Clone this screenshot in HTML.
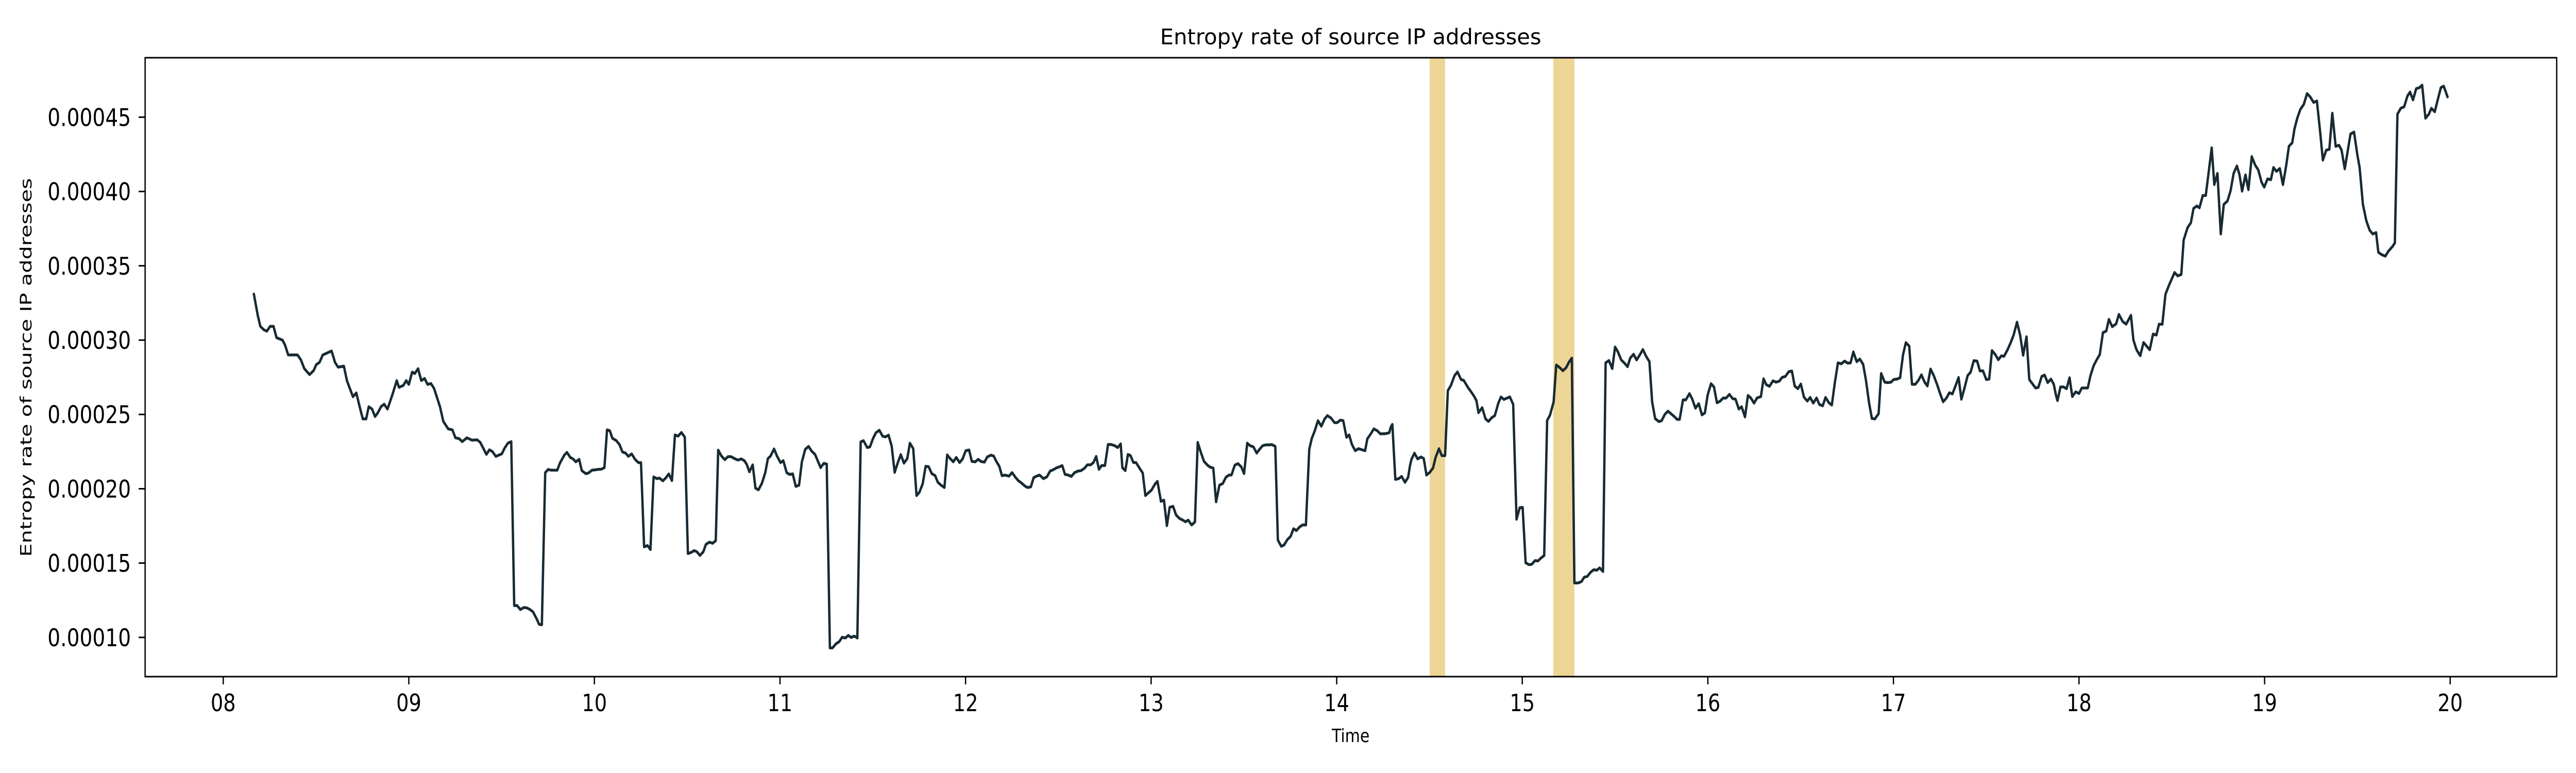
<!DOCTYPE html>
<html><head><meta charset="utf-8"><style>
html,body{margin:0;padding:0;background:#fff;width:100%;height:100%;overflow:hidden;}
svg{display:block;width:100vw;height:100vh;}
text{font-family:"DejaVu Sans","Liberation Sans",sans-serif;fill:#000;}
</style></head><body>
<svg id="chart" viewBox="0 0 6000 1500" preserveAspectRatio="none" xmlns="http://www.w3.org/2000/svg">
<rect x="0" y="0" width="6000" height="1500" fill="#fff"/>
<g id="bands"></g>
<g id="series"></g>
<g id="axes"></g>
<text x="3146" y="86" font-size="42" text-anchor="middle" textLength="888" lengthAdjust="spacingAndGlyphs">Entropy rate of source IP addresses</text>
<text x="3146" y="1440" font-size="36" text-anchor="middle">Time</text>
<text transform="translate(73,713) rotate(-90)" font-size="36" text-anchor="middle" textLength="735" lengthAdjust="spacingAndGlyphs">Entropy rate of source IP addresses</text>
</svg>
<script>
// time in hours, values in units of 1e-5
const times = [8.165,8.186,8.200,8.218,8.235,8.253,8.271,8.287,8.319,8.333,8.350,8.400,8.418,8.437,8.465,8.487,8.501,8.519,8.536,8.584,8.602,8.619,8.650,8.667,8.699,8.717,8.735,8.752,8.770,8.784,8.802,8.818,8.832,8.850,8.867,8.885,8.912,8.935,8.947,8.970,8.986,9.000,9.018,9.032,9.050,9.067,9.085,9.101,9.119,9.136,9.168,9.186,9.212,9.235,9.251,9.271,9.288,9.313,9.340,
9.368,9.385,9.403,9.418,9.434,9.450,9.469,9.501,9.516,9.534,9.552,9.568,9.584,9.601,9.619,9.635,9.651,9.669,9.690,9.702,9.717,9.735,9.751,9.767,9.800,9.814,9.838,9.852,9.870,9.885,9.900,9.918,9.932,9.953,9.967,9.987,10.003,10.020,10.038,10.054,10.068,10.083,10.097,10.118,10.135,10.151,10.168,10.183,10.201,10.219,10.237,10.251,10.268,10.286,10.302,10.319,10.337,10.351,10.369,10.386,10.401,10.418,10.434,10.451,10.469,10.487,10.504,10.522,10.537,10.552,10.569,10.587,10.601,10.620,10.637,10.654,10.667,10.685,10.703,10.720,10.737,10.755,10.774,10.791,10.808,10.821,10.835,10.853,10.868,10.884,10.903,10.921,10.935,10.949,10.968,10.985,11.003,11.018,11.036,11.051,11.069,11.085,11.103,11.118,11.136,11.154,11.171,11.189,
11.205,11.219,11.236,11.252,11.269,11.283,11.302,11.319,11.335,11.352,11.368,11.384,11.400,11.417,11.435,11.450,11.470,11.485,11.502,11.517,11.535,11.553,11.568,11.585,11.602,11.618,11.635,11.651,11.668,11.686,11.700,11.718,11.736,11.751,11.769,11.785,11.801,11.818,11.836,11.851,11.868,11.886,11.901,11.915,11.934,11.950,11.968,11.984,12.001,12.019,12.034,12.052,12.068,12.084,12.102,12.117,12.137,12.152,12.166,12.182,12.196,12.214,12.234,12.251,12.267,12.284,12.302,12.320,12.335,12.352,12.367,12.383,12.399,12.420,12.438,12.456,12.471,12.489,12.505,12.521,12.536,12.554,12.570,12.588,12.606,12.623,12.642,12.656,12.674,12.689,12.704,12.719,12.733,12.751,12.768,12.784,12.804,12.819,12.836,12.845,12.861,12.875,12.889,12.904,12.919,12.937,12.955,12.969,12.984,13.002,13.020,13.034,
13.053,13.069,13.085,13.100,13.118,13.135,13.153,13.171,13.185,13.200,13.218,13.236,13.251,13.268,13.285,13.306,13.321,13.335,13.350,13.368,13.386,13.403,13.419,13.433,13.451,13.468,13.486,13.501,13.518,13.533,13.551,13.569,13.584,13.601,13.618,13.637,13.651,13.669,13.683,13.701,13.716,13.734,13.752,13.767,13.783,13.801,13.817,13.834,13.852,13.866,13.881,13.899,13.917,13.935,13.950,13.970,13.988,14.003,14.020,14.035,14.053,14.067,14.082,14.100,14.118,14.135,14.153,14.165,14.182,14.200,14.218,14.236,14.265,14.283,14.292,14.300,14.316,14.334,14.350,14.368,14.385,14.395,14.403,14.419,14.436,14.454,14.469,14.484,14.501,14.519,14.533,14.551,14.566,14.584,14.599,14.616,14.635,14.651,14.670,14.684,14.708,14.725,14.740,14.753,14.764,14.784,14.802,14.818,14.835,14.852,14.871,14.885,
14.901,14.933,14.951,14.969,14.986,15.002,15.018,15.037,15.051,15.069,15.084,15.101,15.118,15.134,15.149,15.169,15.183,15.201,15.219,15.237,15.252,15.267,15.281,15.301,15.319,15.334,15.350,15.368,15.385,15.402,15.417,15.435,15.449,15.467,15.485,15.500,15.515,15.533,15.551,15.567,15.582,15.600,15.616,15.633,15.650,15.667,15.685,15.700,15.716,15.736,15.751,15.768,15.785,15.801,15.818,15.834,15.848,15.866,15.881,15.901,15.916,15.933,15.951,15.968,15.984,15.999,16.017,16.033,16.049,16.066,16.082,16.098,16.116,16.134,16.149,16.167,16.182,16.200,16.216,16.232,16.249,16.265,
16.286,16.300,16.315,16.332,16.351,16.367,16.385,16.400,16.418,16.436,16.453,16.468,16.485,16.501,16.518,16.536,16.551,16.568,16.586,16.601,16.619,16.634,16.652,16.668,16.684,16.701,16.719,16.737,16.754,16.769,16.784,16.802,16.819,16.837,16.852,16.869,16.884,16.900,16.920,16.934,16.953,16.969,16.987,17.002,17.020,17.036,17.052,17.067,17.085,17.100,17.118,17.135,17.151,17.168,17.183,17.200,17.217,17.235,17.250,17.268,17.286,17.301,17.318,17.333,17.351,17.366,17.384,17.400,17.416,17.433,17.451,17.466,17.483,17.500,17.516,17.531,17.549,17.565,17.581,17.596,17.614,17.632,17.648,17.666,17.683,17.699,17.717,17.732,17.750,17.766,17.781,17.799,17.815,17.831,17.849,17.864,17.876,17.884,17.900,17.917,17.933,17.949,17.964,17.982,18.000,18.015,18.047,18.062,18.079,18.097,18.112,
18.129,18.147,18.161,18.179,18.200,18.215,18.236,18.254,18.280,18.293,18.310,18.330,18.348,18.381,18.399,18.417,18.431,18.449,18.466,18.484,18.515,18.532,18.551,18.564,18.585,18.603,18.617,18.635,18.649,18.667,18.683,18.715,18.729,18.746,18.764,18.780,18.800,18.817,18.833,18.851,18.865,18.879,18.897,18.913,18.931,18.949,18.966,18.984,18.998,19.016,19.034,19.048,19.064,19.082,19.099,19.117,19.131,19.149,19.161,19.176,19.193,19.211,19.229,19.246,19.264,19.282,19.300,19.314,19.332,19.349,19.365,19.383,19.401,19.415,19.432,19.463,19.482,19.500,19.512,19.530,19.548,19.566,19.583,19.601,19.613,19.631,19.651,19.667,19.690,19.702,19.716,19.734,19.752,19.770,19.784,19.800,19.817,19.835,19.849,19.867,19.885,19.899,19.917,19.933,19.950,19.965,19.986];
const values = [33.1,31.66,30.93,30.70,30.6,30.93,30.93,30.17,30.0,29.67,29.0,29.0,28.68,28.08,27.68,27.95,28.35,28.51,29.0,29.27,28.51,28.18,28.25,27.25,26.19,26.45,25.52,24.7,24.7,25.52,25.36,24.86,25.09,25.52,25.69,25.36,26.35,27.28,26.82,26.95,27.28,27.02,27.85,27.75,28.08,27.28,27.42,27.02,27.08,26.75,25.52,24.53,24.03,23.96,23.43,23.37,23.17,23.43,23.27,
23.29,23.12,22.68,22.31,22.62,22.51,22.18,22.35,22.73,23.07,23.17,12.14,12.14,11.87,12.01,11.99,11.89,11.72,11.22,10.88,10.85,21.08,21.30,21.25,21.25,21.72,22.26,22.45,22.11,22.01,21.81,21.98,21.22,21.02,21.05,21.25,21.27,21.30,21.32,21.42,23.96,23.91,23.40,23.24,22.98,22.48,22.40,22.18,22.35,21.98,21.76,21.76,16.09,16.18,15.91,20.8,20.68,20.72,20.53,20.75,21.0,20.55,23.62,23.54,23.79,23.47,15.64,15.72,15.84,15.76,15.51,15.76,16.26,16.41,16.33,16.51,22.60,22.20,21.96,22.16,22.16,22.03,21.93,22.01,21.89,21.64,21.14,21.61,20.04,19.93,20.38,21.10,22.03,22.20,22.68,22.18,21.76,21.89,21.08,20.97,21.0,20.16,20.24,21.81,22.65,22.85,22.53,22.31,
21.84,21.42,21.71,21.66,9.29,9.29,9.57,9.71,10.01,9.96,10.13,9.99,10.09,9.96,23.15,23.24,22.77,22.82,23.40,23.77,23.94,23.54,23.49,23.61,22.87,21.10,21.76,22.30,21.72,22.03,23.07,22.70,19.54,19.76,20.33,21.51,21.49,21.02,20.88,20.43,20.24,20.08,22.28,22.06,21.81,22.11,21.76,22.01,22.56,22.61,21.84,21.81,21.98,21.83,21.79,22.14,22.26,22.20,21.84,21.51,20.88,20.92,20.85,21.09,20.80,20.55,20.38,20.18,20.08,20.13,20.75,20.85,20.92,20.68,20.80,21.19,21.27,21.40,21.47,21.56,20.97,20.92,20.83,21.09,21.19,21.22,21.39,21.61,21.61,21.76,22.18,21.30,21.56,21.56,22.98,22.98,22.90,22.77,23.02,21.42,21.22,22.31,22.23,21.77,21.76,21.39,21.05,19.54,19.71,19.91,20.30,20.50,
19.15,19.24,17.52,18.75,18.82,18.23,18.0,17.89,17.78,17.89,17.56,17.77,23.12,22.45,21.84,21.56,21.44,21.39,19.12,20.24,20.35,20.77,20.92,20.93,21.59,21.69,21.47,21.02,23.07,22.90,22.82,22.40,22.65,22.90,22.95,22.95,22.97,22.85,16.55,16.13,16.21,16.58,16.80,17.31,17.19,17.44,17.57,17.56,22.65,23.40,23.87,24.58,24.21,24.70,24.92,24.75,24.45,24.45,24.62,24.58,23.46,23.62,22.98,22.56,22.70,22.63,22.56,23.36,23.66,24.03,23.91,23.69,23.71,23.77,24.16,24.33,20.63,20.68,20.83,20.43,20.77,21.56,21.98,22.40,22.01,22.14,22.03,20.92,21.10,21.39,22.11,22.70,22.23,22.23,26.60,26.97,27.61,27.86,27.35,27.30,26.80,26.51,26.23,25.93,25.12,25.46,24.70,24.53,24.78,24.92,25.76,26.18,
26.01,26.18,25.68,17.94,18.72,18.75,15.02,14.89,14.92,15.17,15.14,15.34,15.51,24.60,24.94,25.84,28.33,28.16,27.94,28.16,28.53,28.79,13.66,13.66,13.76,14.05,14.10,14.38,14.55,14.52,14.68,14.43,28.47,28.63,28.08,29.54,29.22,28.67,28.45,28.21,28.80,29.05,28.67,29.00,29.37,28.92,28.55,25.84,24.72,24.52,24.58,25.0,25.22,25.05,24.87,24.67,24.67,25.98,25.98,26.40,26.03,25.42,25.73,24.97,25.10,26.31,27.07,26.85,25.78,25.89,26.10,26.10,26.35,26.06,26.03,25.36,25.52,24.83,26.28,26.10,25.76,26.11,
26.20,27.40,27.0,26.89,27.26,27.17,27.24,27.49,27.56,27.88,27.92,26.91,26.73,27.05,26.16,25.90,26.15,25.76,26.11,25.67,25.58,26.15,25.79,25.63,27.12,28.47,28.41,28.59,28.45,28.47,29.21,28.55,28.73,28.36,27.30,25.76,24.73,24.70,25.05,27.76,27.17,27.14,27.17,27.35,27.38,27.47,29.03,29.83,29.60,27.03,27.03,27.30,27.67,27.17,26.91,28.06,27.62,27.03,26.46,25.85,26.11,26.46,26.38,26.87,27.49,26.02,26.82,27.62,27.85,28.62,28.59,27.93,27.93,27.35,27.38,29.30,29.03,28.68,28.94,28.91,29.33,29.83,30.36,31.21,30.32,28.98,30.23,27.35,27.05,26.78,26.82,27.56,27.65,27.14,27.38,27.03,26.29,25.93,26.85,26.85,26.73,27.47,26.20,26.52,26.41,26.78,26.78,27.62,28.29,28.71,29.03,
30.51,30.61,31.40,30.90,31.10,31.73,31.24,31.07,31.67,30.01,29.35,28.95,29.84,29.35,30.41,30.34,31.07,31.07,33.09,33.66,34.55,34.32,34.42,36.74,37.57,37.90,38.86,39.03,38.90,39.73,39.73,42.94,40.46,41.22,37.14,39.13,39.36,40.06,41.22,41.72,41.12,40.02,41.12,40.12,42.35,41.78,41.45,40.62,40.29,40.85,40.79,41.62,41.35,41.55,40.46,41.78,43.04,43.28,44.20,44.93,45.53,45.86,46.59,46.36,45.99,46.09,43.94,42.11,42.78,42.84,45.27,43.04,43.11,42.78,41.52,43.87,44.0,42.45,41.62,39.13,38.04,37.40,37.14,37.24,35.91,35.75,35.65,35.98,36.31,36.54,45.20,45.60,45.70,46.43,46.69,46.16,46.92,46.99,47.16,44.93,45.20,45.60,45.36,46.16,46.99,47.09,46.36];
const bandStarts = [14.501, 15.167];
const bandEnds = [14.584, 15.281];
const xTicks = [8,9,10,11,12,13,14,15,16,17,18,19,20];
const xTickLabels = ["08","09","10","11","12","13","14","15","16","17","18","19","20"];
const yTicks = [10,15,20,25,30,35,40,45];
const yTickLabels = ["0.00010","0.00015","0.00020","0.00025","0.00030","0.00035","0.00040","0.00045"];

const PL=338, PR=5955, PT=112, PB=1313;
const X0=7.579, X1=20.574, Y0=7.36, Y1=49.0;
function xs(h){return PL+(h-X0)/(X1-X0)*(PR-PL);}
function ys(v){return PB-(v-Y0)/(Y1-Y0)*(PB-PT);}
const NS="http://www.w3.org/2000/svg";
function mk(tag,attrs,parent){const e=document.createElementNS(NS,tag);for(const k in attrs)e.setAttribute(k,attrs[k]);parent.appendChild(e);return e;}

const bands=document.getElementById('bands');
for(let i=0;i<bandStarts.length;i++){
  const r=mk('rect',{x:xs(bandStarts[i]),y:PT,width:xs(bandEnds[i])-xs(bandStarts[i]),height:PB-PT,fill:'#edd595'},bands);
  
  
}
const series=document.getElementById('series');
let d='';
for(let i=0;i<times.length;i++){d+=(i?'L':'M')+xs(times[i]).toFixed(1)+' '+ys(values[i]).toFixed(1);}
const line=mk('path',{d:d,fill:'none',stroke:'#182a33','stroke-width':5.5,'stroke-linejoin':'round','stroke-linecap':'round'},series);



const axes=document.getElementById('axes');
const frame=mk('rect',{x:PL,y:PT,width:PR-PL,height:PB-PT,fill:'none',stroke:'#000','stroke-width':3},axes);


for(let i=0;i<xTicks.length;i++){
  const x=xs(xTicks[i]);
  const t=mk('line',{x1:x,x2:x,y1:PB,y2:PB+15,stroke:'#000','stroke-width':3},axes);
  
  
  const l=mk('text',{x:x,y:1380,'font-size':46,'text-anchor':'middle'},axes);
  l.textContent=xTickLabels[i];
  
  
}
for(let i=0;i<yTicks.length;i++){
  const y=ys(yTicks[i]);
  const t=mk('line',{x1:PL-15,x2:PL,y1:y,y2:y,stroke:'#000','stroke-width':3},axes);
  
  
  const l=mk('text',{x:305,y:y+17,'font-size':47,'text-anchor':'end'},axes);
  l.textContent=yTickLabels[i];
  
  
}
</script>
</body></html>
